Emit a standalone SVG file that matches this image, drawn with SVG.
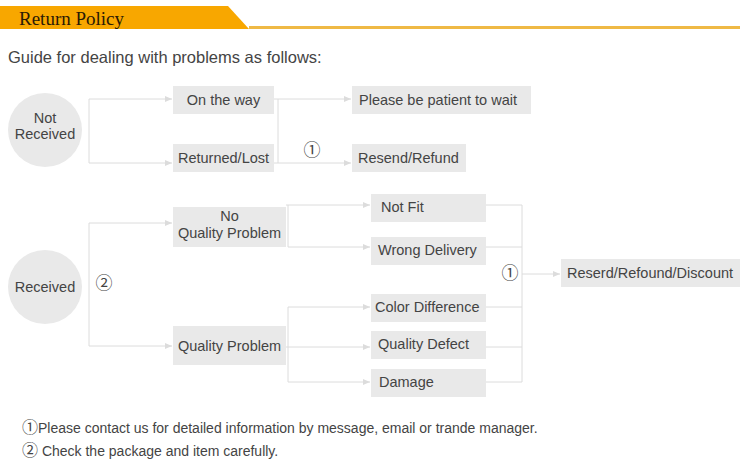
<svg xmlns="http://www.w3.org/2000/svg" width="750" height="466" viewBox="0 0 750 466">
<style>
.t{font-family:"Liberation Sans",Arial,sans-serif;font-size:14.5px;fill:#444}
.box{fill:#e9e9e9}
.circ{fill:#e9e9e9}
.ln{stroke:#dcdcdc;stroke-width:1;fill:none}
.ar{stroke:#dcdcdc;stroke-width:1;fill:none;marker-end:url(#ah)}
.num{font-family:"Noto Sans CJK SC","Noto Sans CJK JP",sans-serif;font-size:17px;font-weight:400;fill:#444}
</style>
<defs>
<marker id="ah" viewBox="0 0 8 8" refX="7" refY="4" markerWidth="8" markerHeight="8" markerUnits="userSpaceOnUse" orient="auto">
<path d="M0,1 L7,4 L0,7 z" fill="#dcdcdc"/>
</marker>
</defs>
<rect width="750" height="466" fill="#fff"/>
<g id="header">
<path d="M0,6 L228,6 L249,29 L0,29 z" fill="#f8a700"/>
<rect x="249" y="26" width="491" height="3" fill="#efb945"/>
<text x="19" y="25" font-family="Liberation Serif,'Times New Roman',serif" font-size="19" fill="#2b1a05">Return Policy</text>
</g>
<text class="t" x="8" y="63" style="font-size:16.5px">Guide for dealing with problems as follows:</text>

<g id="connectors">
<path class="ln" d="M89,99 V163"/>
<path class="ar" d="M89,99 H172"/>
<path class="ar" d="M89,163 H172"/>
<path class="ln" d="M274,99 H278 V163 H274"/>
<path class="ar" d="M278,99 H351"/>
<path class="ar" d="M278,163 H351"/>
<path class="ln" d="M89,223 V346"/>
<path class="ar" d="M89,223 H172"/>
<path class="ar" d="M89,346 H172"/>
<path class="ln" d="M286,205 H288 V247"/>
<path class="ar" d="M288,205 H370"/>
<path class="ar" d="M288,247 H370"/>
<path class="ln" d="M286,347 H288"/>
<path class="ln" d="M288,307 V382"/>
<path class="ar" d="M288,307 H370"/>
<path class="ar" d="M288,347 H370"/>
<path class="ar" d="M288,382 H370"/>
<path class="ln" d="M486,205 H522 M486,247 H522 M486,307 H522 M486,347 H522 M486,382 H522 M522,205 V382"/>
<path class="ar" d="M522,274 H560"/>
</g>

<g id="not-received">
<circle class="circ" cx="45" cy="130" r="37"/>
<text class="t" x="45" y="123" text-anchor="middle">Not</text>
<text class="t" x="45" y="139" text-anchor="middle">Received</text>
</g>
<g id="on-the-way">
<rect class="box" x="173" y="86" width="101" height="28"/>
<text class="t" x="223.5" y="105" text-anchor="middle">On the way</text>
</g>
<g id="returned-lost">
<rect class="box" x="173" y="144" width="101" height="28"/>
<text class="t" x="223.5" y="163" text-anchor="middle">Returned/Lost</text>
</g>
<g id="please-wait">
<rect class="box" x="352" y="86" width="179" height="28"/>
<text class="t" x="359" y="105">Please be patient to wait</text>
</g>
<g id="resend-refund">
<rect class="box" x="352" y="144" width="114" height="28"/>
<text class="t" x="358" y="163">Resend/Refund</text>
</g>
<text class="num" x="312" y="156" text-anchor="middle">①</text>

<g id="received">
<circle class="circ" cx="45" cy="287" r="37"/>
<text class="t" x="45" y="292" text-anchor="middle">Received</text>
</g>
<text class="num" x="104" y="289" text-anchor="middle">②</text>
<g id="no-quality-problem">
<rect class="box" x="173" y="207" width="113" height="40"/>
<text class="t" x="229.5" y="221" text-anchor="middle">No</text>
<text class="t" x="229.5" y="238" text-anchor="middle">Quality Problem</text>
</g>
<g id="quality-problem">
<rect class="box" x="173" y="326" width="113" height="39"/>
<text class="t" x="229.5" y="351" text-anchor="middle">Quality Problem</text>
</g>
<g id="not-fit">
<rect class="box" x="371" y="194" width="115" height="28"/>
<text class="t" x="381" y="212">Not Fit</text>
</g>
<g id="wrong-delivery">
<rect class="box" x="371" y="237" width="115" height="28"/>
<text class="t" x="378" y="255">Wrong Delivery</text>
</g>
<g id="color-difference">
<rect class="box" x="371" y="294" width="115" height="28"/>
<text class="t" x="375" y="312">Color Difference</text>
</g>
<g id="quality-defect">
<rect class="box" x="371" y="331" width="115" height="28"/>
<text class="t" x="378" y="349">Quality Defect</text>
</g>
<g id="damage">
<rect class="box" x="371" y="369" width="115" height="28"/>
<text class="t" x="379" y="387">Damage</text>
</g>
<text class="num" x="510" y="279" text-anchor="middle">①</text>
<g id="result">
<rect class="box" x="561" y="259" width="179" height="28"/>
<text class="t" x="567" y="278">Reserd/Refound/Discount</text>
</g>

<text class="t" x="22" y="433" style="font-size:14px"><tspan class="num" style="font-size:16px">①</tspan>Please contact us for detailed information by message, email or trande manager.</text>
<text class="t" x="22" y="456" style="font-size:14px"><tspan class="num" style="font-size:16px">②</tspan> Check the package and item carefully.</text>
</svg>
